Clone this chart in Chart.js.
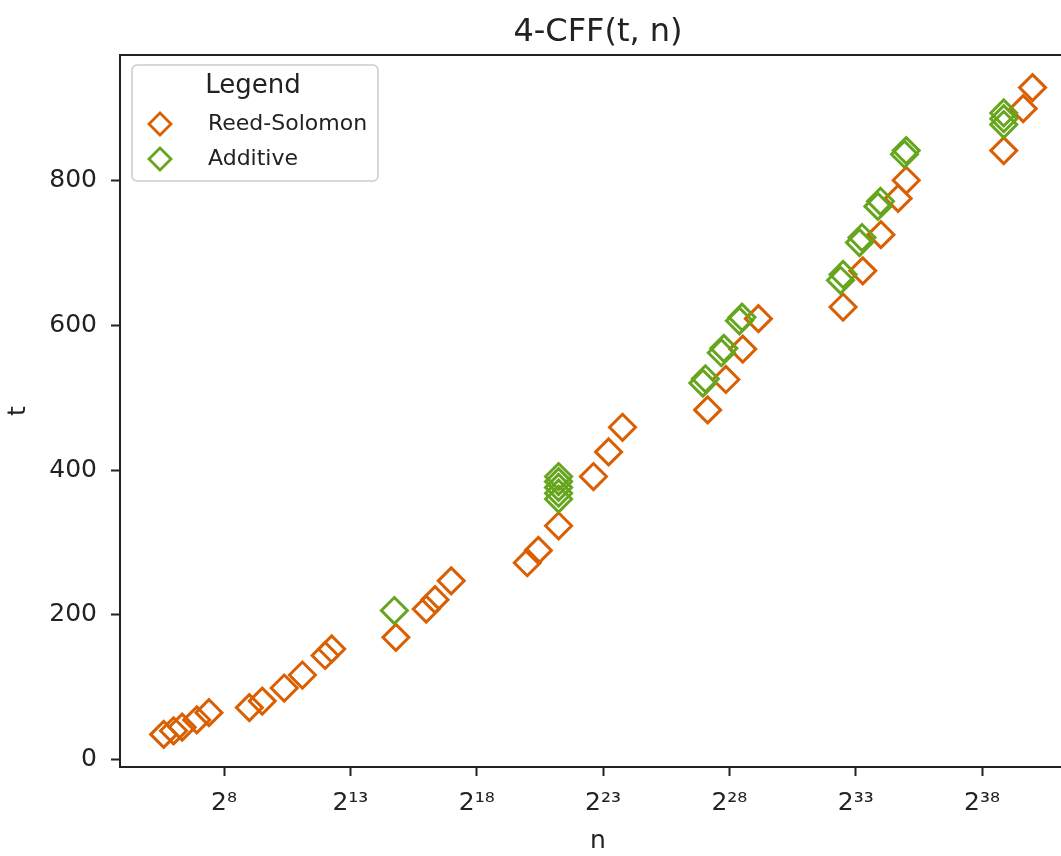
<!DOCTYPE html>
<html>
<head>
<meta charset="utf-8">
<script src="https://cdn.jsdelivr.net/npm/chart.js@4.4.0/dist/chart.umd.min.js"></script>
<style>
html, body { margin: 0; padding: 0; background: #fff; }
/* the reference figure is cut off on the right, so the canvas runs past the clip box */
#clip { width: 1061px; height: 856px; overflow: hidden; position: relative; }
#myChart { display: block; }
</style>
</head>
<body>
<div id="clip"><canvas id="myChart" width="1076" height="856"></canvas></div>
<script>
// n is given as log2(n)
var rsLogN = [5.61, 6, 6.34, 6.92, 7.4,
              9, 9.51, 10.38, 11.1, 12, 12.26,
              14.8, 16, 16.35, 16.99,
              20, 20.44, 21.24, 22.62, 23.22, 23.77,
              27.14, 27.86, 28.53, 29.15,
              32.5, 33.28, 34, 34.68, 35,
              38.86, 39.63, 40]
var rsT = [35, 40, 45, 55, 65,
           72, 81, 99, 117, 144, 153,
           169, 208, 221, 247,
           272, 289, 323, 391, 425, 459,
           483, 525, 567, 609,
           625, 675, 725, 775, 800,
           841, 899, 928]

var addLogN = [14.74,
               21.24, 21.24, 21.24, 21.24, 21.24,
               26.95, 27.05, 27.68, 27.78, 28.4, 28.5,
               32.4, 32.5, 33.15, 33.25, 33.88, 33.98, 34.93, 35.0,
               38.86, 38.86, 38.86]
var addT = [206,
            360, 368, 376, 384, 391,
            520, 526, 562, 568, 606, 611,
            662, 670, 714, 721, 764, 771, 836, 841,
            877, 885, 893]

var xTickExps = [8, 13, 18, 23, 28, 33, 38]
var xTickLabels = ['2⁸', '2¹³', '2¹⁸', '2²³', '2²⁸', '2³³', '2³⁸']
var yTickValues = [0, 200, 400, 600, 800]

var seriesNames = ['Reed-Solomon', 'Additive']
var seriesColors = ['#d95f02', '#66a61e']

function toPoints(xs, ys) {
    return xs.map(function (x, i) { return { x: x, y: ys[i] } })
}

var FONT = 'DejaVu Sans'

// matplotlib style legend box inside the axes
var legendBox = {
    id: 'legendBox',
    afterDatasetsDraw: function (chart) {
        var ctx = chart.ctx
        var area = chart.chartArea
        var x0 = area.left + 12, y0 = area.top + 10, w = 246, h = 116
        ctx.save()
        ctx.beginPath()
        ctx.roundRect(x0, y0, w, h, 5)
        ctx.fillStyle = 'rgba(255,255,255,0.8)'
        ctx.fill()
        ctx.lineWidth = 1.5
        ctx.strokeStyle = '#cccccc'
        ctx.stroke()

        ctx.fillStyle = '#222'
        ctx.textAlign = 'center'
        ctx.textBaseline = 'middle'
        ctx.font = '26px "' + FONT + '"'
        ctx.fillText('Legend', x0 + 121, y0 + 21)

        ctx.textAlign = 'left'
        ctx.font = '22px "' + FONT + '"'
        seriesNames.forEach(function (name, i) {
            var cy = y0 + 59 + i * 35
            ctx.strokeStyle = seriesColors[i]
            ctx.fillStyle = 'rgba(0,0,0,0)'
            ctx.lineWidth = 2.8
            Chart.helpers.drawPoint(ctx, { pointStyle: 'rectRot', radius: 11, rotation: 0, borderWidth: 2.8 }, x0 + 28, cy)
            ctx.fillStyle = '#222'
            ctx.fillText(name, x0 + 76, cy)
        })
        ctx.restore()
    }
}

var tickFont = { family: FONT, size: 25 }

chart = new Chart('myChart', {
    type: 'scatter',
    data: {
        datasets: [{
            label: seriesNames[0],
            data: toPoints(rsLogN, rsT),
            borderColor: seriesColors[0],
            backgroundColor: 'rgba(0,0,0,0)',
            pointStyle: 'rectRot',
            pointRadius: 13,
            pointBorderWidth: 3,
            order: 2
        }, {
            label: seriesNames[1],
            data: toPoints(addLogN, addT),
            borderColor: seriesColors[1],
            backgroundColor: 'rgba(0,0,0,0)',
            pointStyle: 'rectRot',
            pointRadius: 13,
            pointBorderWidth: 3,
            order: 1
        }]
    },
    options: {
        responsive: false,
        animation: false,
        events: [],
        devicePixelRatio: 1,
        layout: { padding: 0, autoPadding: false },
        plugins: {
            legend: { display: false },
            title: { display: false },
            tooltip: { enabled: false }
        },
        scales: {
            x: {
                type: 'linear',
                position: 'bottom',
                min: 3.88,
                max: 41.72,
                afterBuildTicks: function (scale) {
                    scale.ticks = xTickExps.map(function (v) { return { value: v } })
                },
                afterFit: function (scale) { scale.height = 89 },
                ticks: {
                    font: tickFont,
                    color: '#222',
                    padding: 12,
                    maxRotation: 0,
                    callback: function (v) { return xTickLabels[xTickExps.indexOf(v)] }
                },
                grid: { drawOnChartArea: false, drawTicks: true, tickLength: 9, tickWidth: 2, tickColor: '#222' },
                border: { display: true, color: '#222', width: 2 },
                title: { display: true, text: 'n', font: { family: FONT, size: 25 }, color: '#222', padding: { top: 0, bottom: 0 } }
            },
            x2: {
                type: 'linear',
                position: 'top',
                min: 3.88,
                max: 41.72,
                afterBuildTicks: function (scale) {
                    scale.ticks = xTickExps.map(function (v) { return { value: v } })
                },
                afterFit: function (scale) { scale.height = 55 },
                ticks: { display: false },
                grid: { drawOnChartArea: false, drawTicks: false, tickLength: 0 },
                border: { display: true, color: '#222', width: 2 },
                title: { display: true, text: '4-CFF(t, n)', font: { family: FONT, size: 32 }, color: '#222', padding: { top: 13, bottom: 0 } }
            },
            y: {
                type: 'linear',
                min: -10,
                max: 973,
                afterBuildTicks: function (scale) {
                    scale.ticks = yTickValues.map(function (v) { return { value: v } })
                },
                afterFit: function (scale) { scale.width = 120 },
                ticks: { font: tickFont, color: '#222', padding: 14 },
                grid: { drawOnChartArea: false, drawTicks: true, tickLength: 9, tickWidth: 2, tickColor: '#222' },
                border: { display: true, color: '#222', width: 2 },
                title: { display: true, text: 't', font: { family: FONT, size: 25 }, color: '#222', padding: { top: 3, bottom: 0 } }
            }
        }
    },
    plugins: [legendBox]
})
</script>
</body>
</html>
